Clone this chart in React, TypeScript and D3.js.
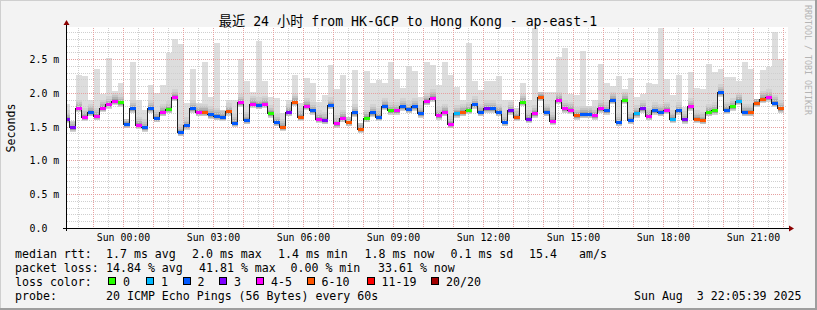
import React from 'react';
import * as d3 from 'd3';

// ---------- data ----------
const TITLE = '最近 24 小时 from HK-GCP to Hong Kong - ap-east-1';
const Y_LABEL = 'Seconds';
const WATERMARK = 'RRDTOOL / TOBI OETIKER';

// time in minutes relative to Sun 00:00
const VIEW_START = -113;
const VIEW_END = 1327;
const FIRST_SAMPLE = -120;
const SAMPLE_MINUTES = 12;

// median rtt per 12-minute sample (ms)
const MEDIAN_MS = [
  1.62, 1.49, 1.78, 1.65, 1.72, 1.66, 1.78, 1.83, 1.885, 1.86,
  1.54, 1.77, 1.53, 1.49, 1.77, 1.63, 1.72, 1.76, 1.94, 1.42,
  1.52, 1.77, 1.72, 1.72, 1.68, 1.66, 1.65, 1.725, 1.56, 1.86,
  1.60, 1.84, 1.82, 1.84, 1.70, 1.57, 1.50, 1.72, 1.87, 1.65,
  1.81, 1.74, 1.62, 1.60, 1.82, 1.55, 1.63, 1.57, 1.71, 1.47,
  1.63, 1.71, 1.65, 1.81, 1.74, 1.74, 1.80, 1.76, 1.80, 1.70,
  1.88, 1.93, 1.67, 1.72, 1.54, 1.70, 1.72, 1.75, 1.83, 1.72,
  1.77, 1.77, 1.72, 1.57, 1.74, 1.65, 1.87, 1.62, 1.70, 1.94,
  1.72, 1.59, 1.90, 1.77, 1.75, 1.67, 1.69, 1.69, 1.67, 1.77,
  1.74, 1.90, 1.57, 1.90, 1.60, 1.70, 1.77, 1.66, 1.74, 1.72,
  1.75, 1.62, 1.74, 1.61, 1.80, 1.62, 1.60, 1.72, 1.74, 2.01,
  1.75, 1.80, 1.885, 1.72, 1.72, 1.855, 1.915, 1.935, 1.855, 1.77,
];

// slowest ping per sample (top of the smoke, ms)
const SMOKE_MAX_MS = [
  1.83, 1.58, 2.26, 2.25, 1.90, 2.36, 1.98, 2.51, 2.03, 2.14,
  1.62, 2.46, 1.90, 1.75, 2.12, 2.00, 2.12, 2.59, 2.80, 2.73,
  1.85, 2.35, 1.85, 2.45, 1.94, 2.74, 1.75, 1.90, 1.90, 2.50,
  2.17, 2.02, 2.77, 2.17, 1.94, 1.92, 1.70, 1.90, 2.26, 1.85,
  2.22, 2.15, 1.87, 1.97, 2.41, 2.06, 2.26, 1.65, 2.34, 1.55,
  2.32, 2.14, 2.19, 2.14, 2.46, 2.20, 2.07, 2.40, 2.32, 1.94,
  2.46, 2.41, 2.12, 2.46, 2.26, 2.09, 1.90, 2.74, 2.17, 2.04,
  2.17, 2.17, 2.25, 1.90, 1.90, 1.78, 2.15, 1.90, 2.96, 2.02,
  2.02, 2.02, 2.53, 2.66, 1.98, 1.97, 2.62, 1.81, 1.89, 2.43,
  2.15, 2.10, 2.25, 2.05, 2.22, 1.94, 1.98, 2.14, 2.13, 2.96,
  2.20, 1.97, 2.26, 1.79, 2.31, 2.07, 2.05, 2.43, 2.31, 2.36,
  2.23, 2.23, 2.17, 2.45, 2.35, 1.91, 2.34, 2.39, 2.90, 2.50,
];

// loss class per sample: 0 -> "0", 1 -> "1", 2 -> "2", 3 -> "3", 4 -> "4-5", 5 -> "6-10"
const LOSS_CLASS = [
  3, 3, 4, 4, 2, 4, 4, 4, 4, 0,
  2, 2, 4, 2, 2, 2, 4, 0, 4, 2,
  2, 2, 4, 5, 2, 2, 2, 5, 2, 4,
  2, 4, 2, 4, 0, 2, 5, 3, 5, 5,
  4, 2, 4, 3, 2, 4, 4, 5, 2, 5,
  0, 2, 2, 2, 0, 4, 2, 2, 2, 2,
  4, 4, 4, 4, 4, 1, 5, 0, 2, 2,
  3, 2, 2, 2, 3, 5, 0, 3, 4, 5,
  2, 4, 4, 4, 4, 5, 2, 2, 4, 4,
  2, 2, 2, 0, 2, 1, 3, 4, 2, 2,
  4, 1, 2, 3, 4, 5, 5, 0, 0, 2,
  2, 0, 1, 2, 5, 5, 5, 4, 2, 5,
];

const LOSS_LABELS = ['0', '1', '2', '3', '4-5', '6-10', '11-19', '20/20'];
const LOSS_COLORS = ['#26ff00', '#00b8ff', '#0059ff', '#7e00ff', '#ff00ff', '#ff5500', '#ff0000', '#a10000'];

const Y_TICKS = [0, 0.5, 1.0, 1.5, 2.0, 2.5];
const Y_TICK_LABELS = ['0.0', '0.5 m', '1.0 m', '1.5 m', '2.0 m', '2.5 m'];
const Y_MAX = 2.96;
const X_TICKS = [0, 180, 360, 540, 720, 900, 1080, 1260];
const X_TICK_LABELS = ['Sun 00:00', 'Sun 03:00', 'Sun 06:00', 'Sun 09:00', 'Sun 12:00', 'Sun 15:00', 'Sun 18:00', 'Sun 21:00'];

const RTT_LABEL = 'median rtt:';
const RTT_STATS = ['1.7 ms avg', '2.0 ms max', '1.4 ms min', '1.8 ms now', '0.1 ms sd', '15.4', 'am/s'];
const LOSS_LABEL = 'packet loss:';
const LOSS_STATS = ['14.84 % avg', '41.81 % max', '0.00 % min', '33.61 % now'];
const COLOR_LABEL = 'loss color:';
const PROBE_LABEL = 'probe:';
const PROBE_TEXT = '20 ICMP Echo Pings (56 Bytes) every 60s';
const TIMESTAMP = 'Sun Aug  3 22:05:39 2025';

// ---------- layout / style ----------
const W = 817;
const H = 310;
const PX0 = 67;
const PX1 = 787;
const PY0 = 28;
const PY1 = 228;
const MONO = '"DejaVu Sans Mono", "Noto Sans CJK SC", monospace';

const RTT_X = [106, 192, 278, 364.5, 450.5, 529, 579];
const LOSS_X = [106, 199, 290.5, 378];
const BOX_X = [108, 146, 182.5, 219, 256, 306.5, 366.5, 431];

// smoke shading around the median (offsets in ms, style only)
const SMOKE_BANDS = [
  { lo: -0.065, hi: 0.12, fill: '#d2d2d2' },
  { lo: -0.055, hi: 0.08, fill: '#c4c4c4' },
  { lo: -0.045, hi: 0.05, fill: '#b2b2b2' },
  { lo: -0.035, hi: 0.025, fill: '#9c9c9c' },
];

export default function App() {
  const x = d3.scaleLinear().domain([VIEW_START, VIEW_END]).range([PX0, PX1]);
  const y = d3.scaleLinear().domain([0, Y_MAX]).range([PY1, PY0]);

  const samples = MEDIAN_MS.map((m, i) => {
    const t0 = FIRST_SAMPLE + i * SAMPLE_MINUTES;
    const t1 = t0 + SAMPLE_MINUTES;
    return { t0, t1, med: m, max: SMOKE_MAX_MS[i], loss: LOSS_CLASS[i] };
  });

  const linePts: [number, number][] = samples.map((s) => [s.t0, s.med]);
  const last = samples[samples.length - 1];
  linePts.push([last.t1, last.med]);
  const stepLine = d3
    .line<[number, number]>()
    .x((d) => x(d[0]))
    .y((d) => Math.round(y(d[1])) + 0.5)
    .curve(d3.curveStepAfter);

  // grid
  const hMinor = d3.range(1, 30).map((k) => k / 10).filter((v) => Math.abs(v * 2 - Math.round(v * 2)) > 1e-6);
  const hMajor = d3.range(1, 6).map((k) => k * 0.5);
  const vAll = d3.range(-90, VIEW_END, 30);
  const vMinor = vAll.filter((t) => ((t % 60) + 60) % 60 !== 0);
  const vMajor = vAll.filter((t) => ((t % 60) + 60) % 60 === 0);
  const gy = (v: number) => Math.round(y(v)) + 0.5;
  const gx = (t: number) => Math.floor(x(t)) + 0.5;

  const minorColor = '#cfcfcf';
  const majorColor = '#e6a0a0';

  return (
    <svg
      width={W}
      height={H}
      viewBox={`0 0 ${W} ${H}`}
      style={{ position: 'absolute', left: 0, top: 0, display: 'block' }}
      fontFamily={MONO}
    >
      <defs>
        <clipPath id="plotclip">
          <rect x={PX0} y={PY0 - 1} width={PX1 - PX0} height={PY1 - PY0 + 1} />
        </clipPath>
      </defs>
      {/* background with shade */}
      <rect x={0} y={0} width={W} height={H} fill="#f3f3f3" />
      <path d={`M0,0.5H${W} M0.5,0V${H}`} stroke="#cfcfcf" strokeWidth={1} />
      <path d={`M0,${H - 1}H${W} M${W - 1},0V${H}`} stroke="#9e9e9e" strokeWidth={2} />
      <rect x={PX0} y={PY0 - 1} width={PX1 - PX0 + 1} height={PY1 - PY0 + 1} fill="#ffffff" />

      {/* smoke */}
      <g clipPath="url(#plotclip)" shapeRendering="crispEdges">
        {samples.map((s, i) => {
          const xa = x(s.t0);
          const w = x(s.t1) - xa;
          const lo = s.med + SMOKE_BANDS[0].lo;
          return (
            <rect key={`sm${i}`} x={xa} width={w} y={y(s.max)} height={Math.max(0, y(lo) - y(s.max))} fill="#dddddd" />
          );
        })}
        {SMOKE_BANDS.map((b, bi) =>
          samples.map((s, i) => {
            const xa = x(s.t0);
            const w = x(s.t1) - xa;
            const top = Math.min(s.max, s.med + b.hi);
            const bot = s.med + b.lo;
            return <rect key={`b${bi}-${i}`} x={xa} width={w} y={y(top)} height={Math.max(0, y(bot) - y(top))} fill={b.fill} />;
          })
        )}
      </g>

      {/* grid */}
      <g strokeWidth={1} strokeDasharray="1,1" shapeRendering="crispEdges">
        {hMinor.map((v) => (
          <line key={`hm${v}`} x1={PX0} x2={PX1} y1={gy(v)} y2={gy(v)} stroke={minorColor} />
        ))}
        {vMinor.map((t) => (
          <line key={`vm${t}`} x1={gx(t)} x2={gx(t)} y1={PY0} y2={PY1} stroke={minorColor} />
        ))}
        {hMajor.map((v) => (
          <line key={`hM${v}`} x1={PX0} x2={PX1} y1={gy(v)} y2={gy(v)} stroke={majorColor} />
        ))}
        {vMajor.map((t) => (
          <line key={`vM${t}`} x1={gx(t)} x2={gx(t)} y1={PY0} y2={PY1} stroke={majorColor} />
        ))}
      </g>

      {/* median line + loss colours */}
      <g clipPath="url(#plotclip)">
        <path d={stepLine(linePts) || ''} fill="none" stroke="#202020" strokeWidth={1} shapeRendering="crispEdges" />
        {samples.map((s, i) => {
          const xa = x(s.t0);
          const w = x(s.t1) - xa;
          const yc = Math.round(y(s.med));
          return (
            <rect key={`c${i}`} x={xa} width={w} y={yc - 1} height={3} fill={LOSS_COLORS[s.loss]} shapeRendering="crispEdges" />
          );
        })}
      </g>

      {/* axes */}
      <g shapeRendering="crispEdges">
        <line x1={63} x2={790} y1={PY1 + 0.5} y2={PY1 + 0.5} stroke="#000" />
        <line x1={PX0 - 0.5} x2={PX0 - 0.5} y1={PY1 + 3} y2={24} stroke="#000" />
      </g>
      <path d={`M${PX0 - 3.5},25 L${PX0 - 0.5},20 L${PX0 + 2.5},25 Z`} fill="#8b0000" />
      <path d={`M789,${PY1 - 2.5} L794,${PY1 + 0.5} L789,${PY1 + 3.5} Z`} fill="#8b0000" />

      {/* tick labels */}
      <g fontSize={9.9} fill="#000">
        {Y_TICKS.map((v, i) => (
          <text key={`yl${v}`} x={29.5} y={gy(v) + 3.5} xmlSpace="preserve">
            {Y_TICK_LABELS[i]}
          </text>
        ))}
        {X_TICKS.map((t, i) => (
          <text key={`xl${t}`} x={x(t)} y={241} textAnchor="middle">
            {X_TICK_LABELS[i]}
          </text>
        ))}
      </g>

      {/* title & axis label */}
      <text x={408} y={26} textAnchor="middle" fontSize={13.2} fill="#000" xmlSpace="preserve">
        {TITLE}
      </text>
      <text transform="translate(15,128) rotate(-90)" textAnchor="middle" fontSize={11.6} fill="#000">
        {Y_LABEL}
      </text>
      <text transform="translate(805,5) rotate(90)" fontSize={8.3} fill="#b4b4b4" xmlSpace="preserve">
        {WATERMARK}
      </text>

      {/* legend */}
      <g fontSize={11.6} fill="#000">
        <text x={15} y={258}>{RTT_LABEL}</text>
        {RTT_STATS.map((s, i) => (
          <text key={`rs${i}`} x={RTT_X[i]} y={258} xmlSpace="preserve">{s}</text>
        ))}
        <text x={15} y={272}>{LOSS_LABEL}</text>
        {LOSS_STATS.map((s, i) => (
          <text key={`ls${i}`} x={LOSS_X[i]} y={272} xmlSpace="preserve">{s}</text>
        ))}
        <text x={15} y={286}>{COLOR_LABEL}</text>
        {LOSS_LABELS.map((l, i) => (
          <g key={`lc${i}`}>
            <rect x={BOX_X[i] + 0.5} y={277.5} width={7} height={7} fill={LOSS_COLORS[i]} stroke="#000" strokeWidth={1} shapeRendering="crispEdges" />
            <text x={BOX_X[i] + 15} y={286}>{l}</text>
          </g>
        ))}
        <text x={15} y={300}>{PROBE_LABEL}</text>
        <text x={106} y={300} xmlSpace="preserve">{PROBE_TEXT}</text>
        <text x={801.5} y={300} textAnchor="end" xmlSpace="preserve">{TIMESTAMP}</text>
      </g>
    </svg>
  );
}
